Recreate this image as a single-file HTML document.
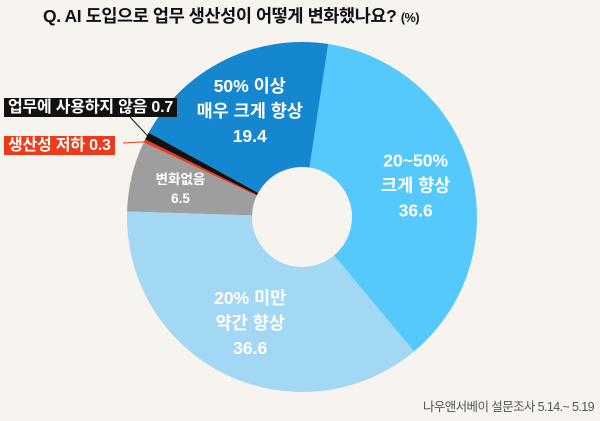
<!DOCTYPE html>
<html><head><meta charset="utf-8"><style>
html,body{margin:0;padding:0;background:#f7f4ef;}
body{width:600px;height:421px;overflow:hidden;position:relative;font-family:"Liberation Sans","Noto Sans CJK KR",sans-serif;}
.title{position:absolute;left:43px;top:3px;font-size:17.5px;font-weight:bold;color:#111;letter-spacing:-0.4px;white-space:nowrap;}
.title span{font-size:12.5px;}
.box{position:absolute;color:#fff;font-weight:bold;font-size:16px;line-height:19px;padding:0 4px;white-space:nowrap;letter-spacing:-0.2px;}
.foot{position:absolute;right:6px;top:396px;font-size:12.5px;color:#555;letter-spacing:-0.6px;}
svg{position:absolute;left:0;top:0;}
</style></head><body>
<div class="title">Q. AI 도입으로 업무 생산성이 어떻게 변화했나요? <span>(%)</span></div>
<svg id="chart" width="600" height="421"></svg>
<div class="box" style="left:4px;top:98px;background:#111;">업무에 사용하지 않음 0.7</div>
<div class="box" style="left:4px;top:136px;background:#ee3a1a;">생산성 저하 0.3</div>
<div class="foot">나우앤서베이 설문조사 5.14.~ 5.19</div>
<script>
const categories=["20~50% 크게 향상","20% 미만 약간 향상","변화없음","생산성 저하","업무에 사용하지 않음","50% 이상 매우 크게 향상"];
const values=[36.6,36.6,6.5,0.3,0.7,19.4];
const colors=["#55c8fc","#a3d8f5","#9e9e9e","#ee3a1a","#111111","#1487d0"];
const labelLines=[["20~50%","크게 향상","36.6"],["20% 미만","약간 향상","36.6"],["변화없음","6.5"],null,null,["50% 이상","매우 크게 향상","19.4"]];
const svg=document.getElementById('chart');
const NS='http://www.w3.org/2000/svg';
const cx=302,cy=217,R=175,r=50,start=8.6;
const total=values.reduce((a,b)=>a+b,0);
function pt(deg,rad){const a=(deg-90)*Math.PI/180;return [cx+rad*Math.cos(a),cy+rad*Math.sin(a)];}
let acc=start;
values.forEach((v,i)=>{
  const a0=acc,a1=acc+v/total*360;acc=a1;
  const large=(a1-a0)>180?1:0;
  const p0=pt(a0,R),p1=pt(a1,R),q1=pt(a1,r),q0=pt(a0,r);
  const p=document.createElementNS(NS,'path');
  p.setAttribute('d',`M${p0[0]},${p0[1]}A${R},${R} 0 ${large} 1 ${p1[0]},${p1[1]}L${q1[0]},${q1[1]}A${r},${r} 0 ${large} 0 ${q0[0]},${q0[1]}Z`);
  p.setAttribute('fill',colors[i]);
  
  
  svg.appendChild(p);
  const lines=labelLines[i];
  if(lines){
    const mid=(a0+a1)/2;
    const small=v<10;
    const c=pt(mid,small?125:118);
    const lh=small?19:25;
    lines.forEach((s,k)=>{
      const t=document.createElementNS(NS,'text');
      t.setAttribute('x',c[0]);
      t.setAttribute('y',c[1]+(k-(lines.length-1)/2)*lh+6);
      t.setAttribute('text-anchor','middle');
      t.setAttribute('fill','#fff');
      t.setAttribute('font-weight','bold');
      t.setAttribute('font-size',small?'13.5':'17.5');
      t.textContent=s;
      
      
      svg.appendChild(t);
    });
  }
  if(i===3||i===4){
    const mid=(a0+a1)/2;const e=pt(mid,R-2);
    const l=document.createElementNS(NS,'line');
    l.setAttribute('x1',i===4?130:123);l.setAttribute('y1',i===4?117:143);
    l.setAttribute('x2',e[0]);l.setAttribute('y2',e[1]);
    l.setAttribute('stroke',colors[i]);l.setAttribute('stroke-width','1');
    
    
    svg.appendChild(l);
  }
});
</script>
</body></html>
